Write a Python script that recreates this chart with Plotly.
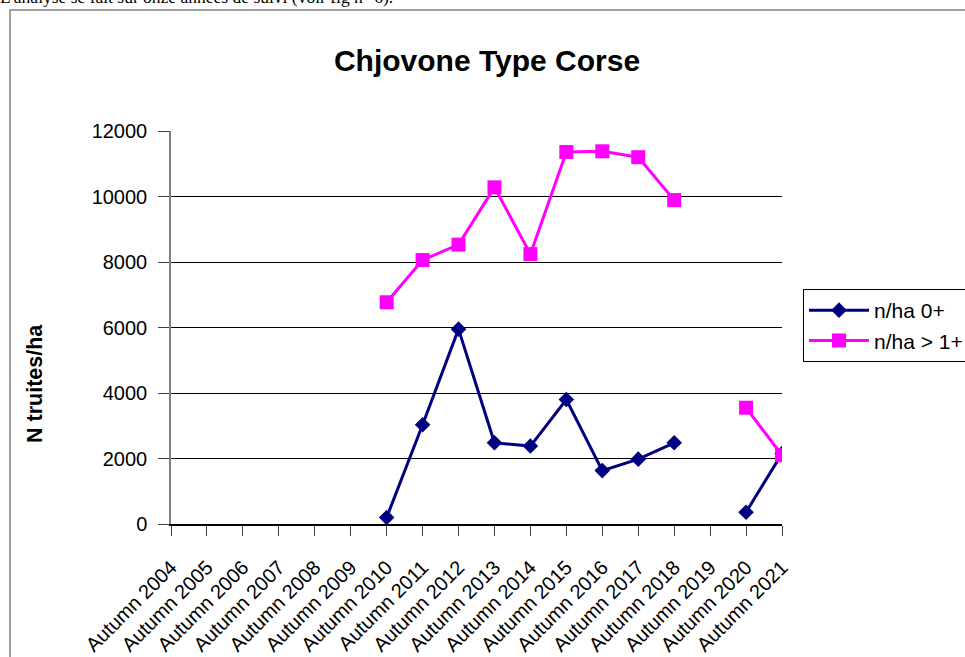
import plotly.graph_objects as go

# Données
saisons = ["Autumn %d" % a for a in range(2004, 2022)]
n_ha_0 = [None, None, None, None, None, None,
          200, 3030, 5950, 2480, 2380, 3800, 1630, 1980, 2480, None, 360, 2150]
n_ha_1 = [None, None, None, None, None, None,
          6770, 8060, 8530, 10280, 8240, 11360, 11380, 11200, 9890, None, 3550, 2100]
y_ticks = [0, 2000, 4000, 6000, 8000, 10000, 12000]

# zone du graphique en pixels (fenêtre 965x657)
W, H = 965, 657
L, R, T, B = 171, 782, 131, 524


def px_x(x):
    return (x - L) / (R - L)


def px_y(y):
    return (B - y) / (B - T)


fig = go.Figure()

fig.add_trace(go.Scatter(
    x=saisons, y=n_ha_0,
    mode='lines+markers',
    name='n/ha 0+',
    line=dict(color='#000080', width=3),
    marker=dict(color='#000080', size=12, symbol='diamond'),
    connectgaps=False
))

fig.add_trace(go.Scatter(
    x=saisons, y=n_ha_1,
    mode='lines+markers',
    name='n/ha > 1+',
    line=dict(color='#FF00FF', width=3),
    marker=dict(color='#FF00FF', size=14, symbol='square'),
    connectgaps=False
))

# cadre du graphique (coupé à droite et en bas)
fig.add_shape(type='rect', xref='paper', yref='paper',
              x0=px_x(10), x1=px_x(W + 20), y0=px_y(H + 20), y1=px_y(10),
              line=dict(color='#808080', width=1.5), layer='below')

# texte du document au-dessus du graphique (coupé en haut, comme sur l'original)
fig.add_annotation(
    text="L'analyse se fait sur onze années de suivi (voir fig n° 6).",
    xref='paper', yref='paper', x=px_x(-2), y=px_y(-2.5),
    xanchor='left', yanchor='middle', showarrow=False,
    font=dict(family='Liberation Serif', size=17.5, color='black')
)

# titre de l'axe Y
fig.add_annotation(
    text='<b>N truites/ha</b>',
    xref='paper', yref='paper', x=px_x(35), y=px_y(384),
    xanchor='center', yanchor='middle', showarrow=False, textangle=-90,
    font=dict(family='Liberation Sans', size=21.5, color='black')
)

fig.update_layout(
    title=dict(text='<b>Chjovone Type Corse</b>',
               x=487 / W, xref='container', xanchor='center',
               y=1 - 60 / H, yref='container', yanchor='middle',
               font=dict(family='Liberation Sans', size=30, color='black')),
    width=W, height=H,
    margin=dict(l=L, r=W - R, t=T, b=H - B, pad=0, autoexpand=False),
    paper_bgcolor='white',
    plot_bgcolor='white',
    font=dict(family='Liberation Sans', size=20, color='black'),
    showlegend=True,
    legend=dict(x=px_x(803), y=px_y(289), xanchor='left', yanchor='top',
                bordercolor='black', borderwidth=1, bgcolor='white',
                font=dict(size=21), itemwidth=60, tracegroupgap=0)
)

fig.update_xaxes(
    type='category', range=[0, len(saisons) - 1],
    tickangle=-45, ticks='outside', ticklen=10, tickcolor='#404040',
    ticklabelstandoff=12,
    showline=True, linecolor='black', linewidth=1.5,
    showgrid=False, zeroline=False,
    tickfont=dict(size=20)
)

fig.update_yaxes(
    range=[0, 12000], tickvals=y_ticks, tickformat='d',
    ticks='outside', ticklen=11, tickcolor='#404040',
    ticklabelstandoff=7,
    showline=True, linecolor='#808080', linewidth=1.5,
    showgrid=True, gridcolor='black', gridwidth=1,
    zeroline=False, tickfont=dict(size=20)
)

fig.write_html("out.html",
               config={'displayModeBar': False},
               post_script="document.body.style.margin='0';"
                           "document.body.style.overflow='hidden';")
